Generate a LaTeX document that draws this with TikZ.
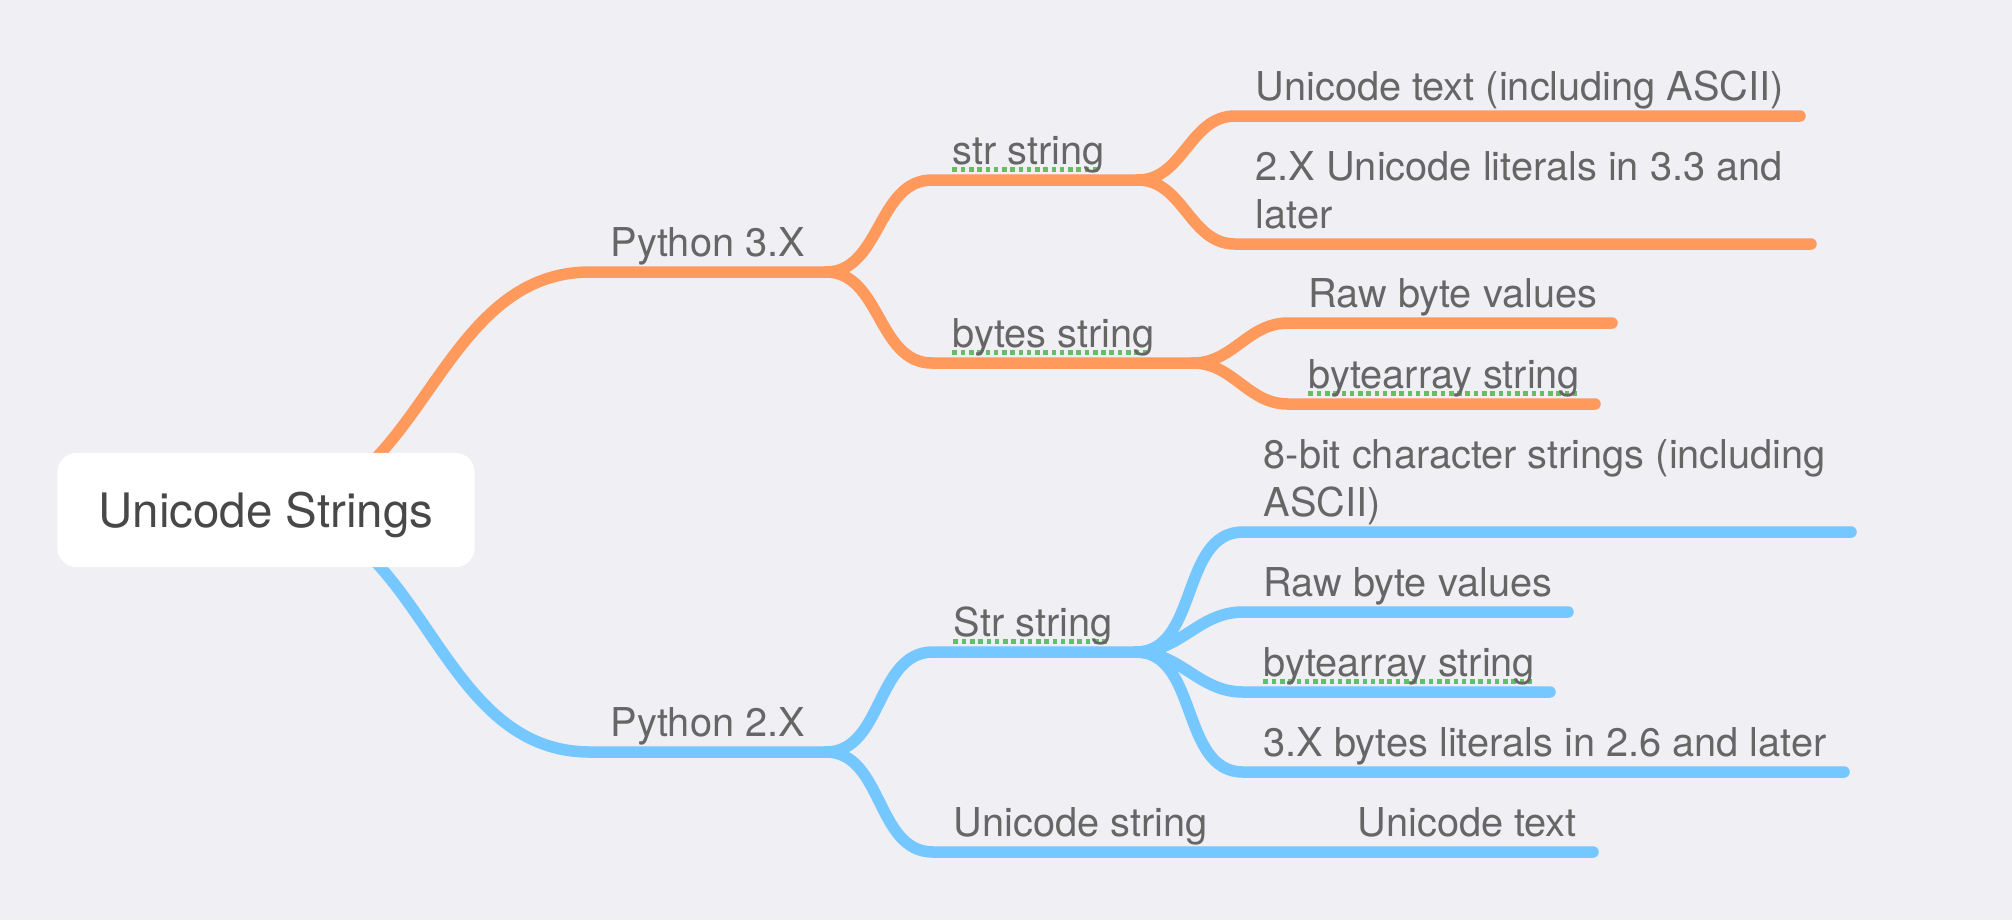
\documentclass[tikz,border=0pt]{standalone}
\usepackage{fontspec}
\setmainfont{TeX Gyre Heros}
\usetikzlibrary{positioning}
\definecolor{pagebg}{RGB}{239,239,244}
\definecolor{pythreeorange}{RGB}{255,153,92}
\definecolor{pytwoblue}{RGB}{116,199,255}
\definecolor{labelgray}{RGB}{102,102,102}
\definecolor{rootgray}{RGB}{72,72,72}
\definecolor{spellgreen}{RGB}{100,190,100}
\pgfdeclarelayer{back}
\pgfdeclarelayer{edges}
\pgfsetlayers{back,edges,main}
% dotted spell-check mark under a word
\newsavebox{\spellbox}
\newcommand{\spellmark}[1]{\sbox{\spellbox}{#1}\rlap{\kern-0.6pt\hbox to \dimexpr\wd\spellbox+1.2pt\relax{\leaders\hbox to 2.35pt{\hss\textcolor{spellgreen}{\rule[-2.15pt]{1.3pt}{1.3pt}}\hss}\hfill}}\usebox{\spellbox}}

\begin{document}
\begin{tikzpicture}[x=0.01cm, y=-0.01cm,
    root/.style={fill=white, rounded corners=0.19cm, minimum width=4.17cm, minimum height=1.14cm, text height=0.34cm, text depth=0pt, text=rootgray, font=\fontsize{13.5pt}{16pt}\selectfont},
    topic/.style={anchor=south west, inner xsep=0.2cm, inner ysep=0.15cm, text depth=0pt, align=left, text=labelgray, font=\fontsize{11.3pt}{13.5pt}\selectfont},
    pythreeedge/.style={draw=pythreeorange, line width=0.115cm, line cap=round},
    pytwoedge/.style={draw=pytwoblue, line width=0.115cm, line cap=round}]
    \useasboundingbox (0,0) rectangle (2012,920);
    \begin{pgfonlayer}{back}
      \fill[pagebg] (0,0) rectangle (2012,920);
    \end{pgfonlayer}

    % Nodes
    \node[root] (root) at (266,510) {Unicode Strings};
    \node[topic] (py3) at (590,272) {Python 3.X};
    \node[topic] (strs3) at (932,180) {\spellmark{str string}};
    \node[topic] (utext) at (1235,116) {Unicode text (including ASCII)};
    \node[topic] (ulit) at (1235,244) {2.X Unicode literals in 3.3 and\\later};
    \node[topic] (bytes3) at (932,363) {\spellmark{bytes string}};
    \node[topic] (raw3) at (1288,323) {Raw byte values};
    \node[topic] (barr3) at (1288,404) {\spellmark{bytearray string}};
    \node[topic] (py2) at (590,752) {Python 2.X};
    \node[topic] (strs2) at (933,652) {\spellmark{Str string}};
    \node[topic] (bit8) at (1243,532) {8-bit character strings (including\\ASCII)};
    \node[topic] (raw2) at (1243,612) {Raw byte values};
    \node[topic] (barr2) at (1243,692) {\spellmark{bytearray string}};
    \node[topic] (blit) at (1243,772) {3.X bytes literals in 2.6 and later};
    \node[topic] (ustr) at (933,852) {Unicode string};
    \node[topic] (utext2) at (1337,852) {Unicode text};

    % Edges
    \begin{pgfonlayer}{edges}
      \draw[pythreeedge] (root.center) to[out=0, in=180] (py3.south west) -- ++(236,0) coordinate (py3-end);
      \draw[pythreeedge] (py3-end) to[out=0, in=180] (strs3.south west) -- ++(206,0) coordinate (strs3-end);
      \draw[pythreeedge] (strs3-end) to[out=0, in=180] (utext.south west) -- ++(565,0);
      \draw[pythreeedge] (strs3-end) to[out=0, in=180] (ulit.south west) -- ++(576,0);
      \draw[pythreeedge] (py3-end) to[out=0, in=180] (bytes3.south west) -- ++(261,0) coordinate (bytes3-end);
      \draw[pythreeedge] (bytes3-end) to[out=0, in=180] (raw3.south west) -- ++(324,0);
      \draw[pythreeedge] (bytes3-end) to[out=0, in=180] (barr3.south west) -- ++(307,0);

      \draw[pytwoedge] (root.center) to[out=0, in=180] (py2.south west) -- ++(236,0) coordinate (py2-end);
      \draw[pytwoedge] (py2-end) to[out=0, in=180] (strs2.south west) -- ++(203,0) coordinate (strs2-end);
      \draw[pytwoedge] (strs2-end) to[out=0, in=180] (bit8.south west) -- ++(608,0);
      \draw[pytwoedge] (strs2-end) to[out=0, in=180] (raw2.south west) -- ++(325,0);
      \draw[pytwoedge] (strs2-end) to[out=0, in=180] (barr2.south west) -- ++(307,0);
      \draw[pytwoedge] (strs2-end) to[out=0, in=180] (blit.south west) -- ++(601,0);
      \draw[pytwoedge] (py2-end) to[out=0, in=180] (ustr.south west) -- (utext2.south west) -- ++(256,0);
    \end{pgfonlayer}
  \end{tikzpicture}
\end{document}
